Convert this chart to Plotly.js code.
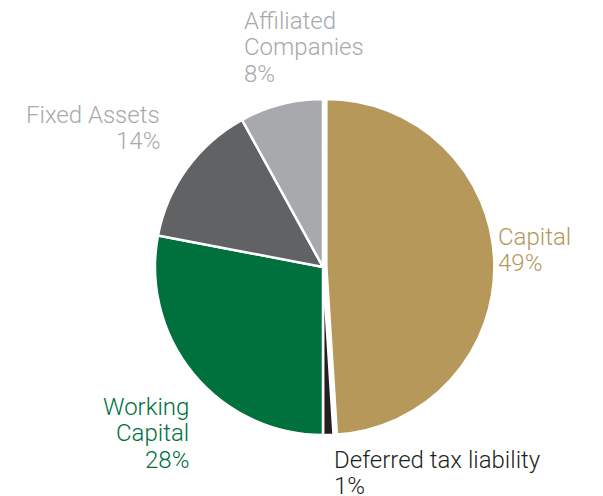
<!DOCTYPE html>
<html>
<head>
<meta charset="utf-8">
<script src="https://cdn.plot.ly/plotly-3.0.1.min.js"></script>
<style>html,body{margin:0;padding:0;background:#fff;}#chart{width:603px;height:496px;}</style>
</head>
<body>
<div id="chart"></div>
<script>
var categories = ["Capital", "Deferred tax liability", "Working Capital", "Fixed Assets", "Affiliated Companies"];
var labelLines = [["Capital"], ["Deferred tax liability"], ["Working", "Capital"], ["Fixed Assets"], ["Affiliated", "Companies"]];
var values = [49, 1, 28, 14, 8];
var sliceColors = ["#b5985a", "#231f20", "#00703c", "#616264", "#a7a9ac"];
var labelColors = ["#b5985a", "#231f20", "#00703c", "#a7a9ac", "#a7a9ac"];

var W = 603, H = 496;
// label anchor: x edge and first-line baseline in pixels
var labelPos = [
  {x: 497, base: 245, side: "left"},
  {x: 333, base: 468, side: "left"},
  {x: 190, base: 415, side: "right"},
  {x: 161, base: 123, side: "right"},
  {x: 243, base: 29, side: "left"}
];
var pitch = 26.7, fsize = 24, capMid = 8.5;

var annotations = [];
categories.forEach(function (c, i) {
  var p = labelPos[i];
  var lines = labelLines[i].concat([values[i] + "%"]);
  lines.forEach(function (t, k) {
    var yc = p.base + k * pitch - capMid;
    annotations.push({
      text: t,
      x: p.x / W, y: 1 - yc / H,
      xref: "paper", yref: "paper",
      xanchor: p.side, yanchor: "middle",
      align: p.side,
      showarrow: false,
      borderpad: 0,
      font: {family: "Roboto, sans-serif", size: fsize, weight: 300, color: labelColors[i]}
    });
  });
});

var cx = 323, cy = 267, r = 168 * 1.02;
var trace = {
  type: "pie",
  labels: categories,
  values: values,
  sort: false,
  direction: "clockwise",
  rotation: 0,
  pull: [0.02, 0, 0, 0, 0],
  textinfo: "none",
  hoverinfo: "label+percent",
  marker: {colors: sliceColors, line: {color: "#ffffff", width: 2.5}},
  domain: {x: [(cx - r) / W, (cx + r) / W], y: [(H - cy - r) / H, (H - cy + r) / H]}
};

Plotly.newPlot("chart", [trace], {
  width: W, height: H,
  margin: {l: 0, r: 0, t: 0, b: 0},
  showlegend: false,
  paper_bgcolor: "#ffffff",
  annotations: annotations
}, {displayModeBar: false});
</script>
</body>
</html>
